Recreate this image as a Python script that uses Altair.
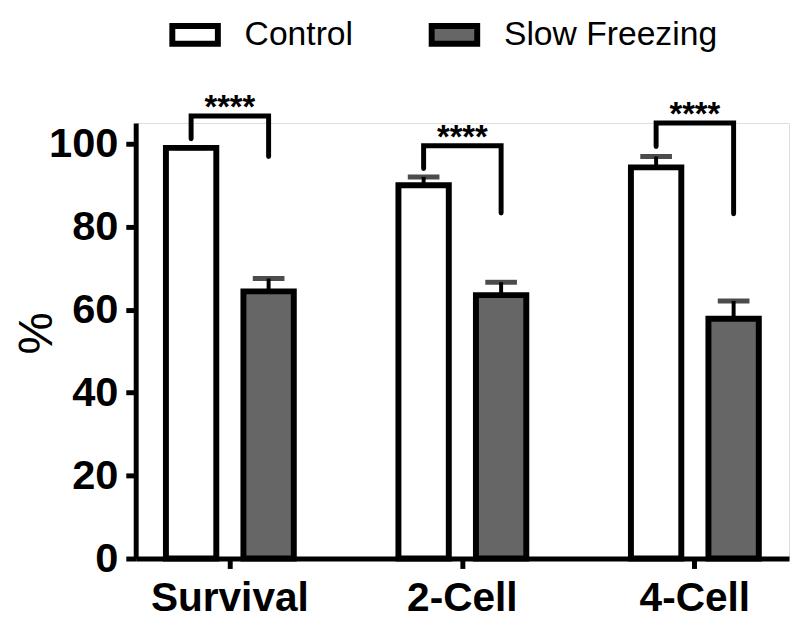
import altair as alt
import pandas as pd

# ---- data ----
groups = ["Survival", "2-Cell", "4-Cell"]
series = ["Control", "Slow Freezing"]
control_mean = [99.0, 90.0, 94.3]
control_err = [0.0, 2.0, 2.6]
slow_mean = [64.4, 63.5, 57.8]
slow_err = [3.1, 3.1, 4.3]
# significance brackets (in % units)
bracket_top = [106.7, 99.5, 105.0]
bracket_left_end = [101.2, 94.0, 99.3]
bracket_right_end = [96.9, 83.3, 83.1]
sig_labels = ["****", "****", "****"]
y_ticks = [0, 20, 40, 60, 80, 100]

FONT = "Liberation Sans"

rows = []
for i, g in enumerate(groups):
    rows.append({"group": g, "series": series[0], "mean": control_mean[i],
                 "upper": control_mean[i] + control_err[i]})
    rows.append({"group": g, "series": series[1], "mean": slow_mean[i],
                 "upper": slow_mean[i] + slow_err[i]})
bars_df = pd.DataFrame(rows)

brows = []
for i, g in enumerate(groups):
    brows += [
        {"group": g, "series": series[0], "y": bracket_left_end[i], "k": 0},
        {"group": g, "series": series[0], "y": bracket_top[i], "k": 1},
        {"group": g, "series": series[1], "y": bracket_top[i], "k": 2},
        {"group": g, "series": series[1], "y": bracket_right_end[i], "k": 3},
    ]
br_df = pd.DataFrame(brows)
stars_df = pd.DataFrame({"group": groups, "y": bracket_top, "label": sig_labels})

x_enc = alt.X(
    "group:N", sort=groups,
    scale=alt.Scale(paddingInner=0.45, paddingOuter=0.13),
    axis=alt.Axis(title=None, labelAngle=0, labelFontSize=41, labelFontWeight="bold",
                  labelFont=FONT, labelColor="black", tickSize=10, tickWidth=5,
                  tickColor="black", domainColor="black", domainWidth=5,
                  labelPadding=11, grid=False),
)
xo_enc = alt.XOffset("series:N", sort=series,
                     scale=alt.Scale(paddingInner=0.35, paddingOuter=0))
y_scale = alt.Scale(domain=[0, 105], nice=False, zero=True)

bars = alt.Chart(bars_df).mark_bar(stroke="black", strokeWidth=6, strokeJoin="miter").encode(
    x=x_enc,
    xOffset=xo_enc,
    y=alt.Y("mean:Q", scale=y_scale,
            axis=alt.Axis(values=y_ticks, title="%", titleFontSize=48, titleFontWeight="normal",
                          titleFont=FONT, titleColor="black", titleX=-85, titleY=212,
                          titleBaseline="alphabetic",
                          labelFontSize=42, labelFontWeight="bold", labelFont=FONT,
                          labelColor="black", tickSize=10, tickWidth=5, tickColor="black",
                          domainColor="black", domainWidth=5, labelPadding=8, grid=False)),
    fill=alt.Fill("series:N", sort=series,
                  scale=alt.Scale(domain=series, range=["white", "#666666"]),
                  legend=alt.Legend(orient="none", legendX=34, legendY=-115,
                                    direction="horizontal", title=None,
                                    symbolType="M-1,-0.39H1V0.39H-1Z", symbolSize=2116,
                                    symbolStrokeWidth=6, symbolStrokeColor="black",
                                    symbolOpacity=1, labelLimit=0,
                                    labelFontSize=34, labelFont=FONT, labelColor="black",
                                    labelOffset=24, columnPadding=67, padding=0)),
)

err = alt.Chart(bars_df).mark_rule(color="black", strokeWidth=4).encode(
    x=x_enc, xOffset=xo_enc,
    y=alt.Y("mean:Q", scale=y_scale), y2="upper:Q",
)
caps = alt.Chart(bars_df).mark_tick(color="black", size=32, thickness=5, orient="horizontal").encode(
    x=x_enc, xOffset=xo_enc,
    y=alt.Y("upper:Q", scale=y_scale),
)
brackets = alt.Chart(br_df).mark_line(color="black", strokeWidth=5, strokeCap="round",
                                      strokeJoin="miter").encode(
    x=x_enc, xOffset=xo_enc,
    y=alt.Y("y:Q", scale=y_scale),
    detail="group:N",
    order="k:Q",
)
stars = alt.Chart(stars_df).mark_text(fontSize=33, fontWeight="bold", font=FONT,
                                      baseline="alphabetic", dy=2, color="black").encode(
    x=x_enc,
    y=alt.Y("y:Q", scale=y_scale),
    text="label:N",
)

chart = alt.layer(bars, err, caps, brackets, stars).properties(
    width=660, height=440,
    autosize=alt.AutoSizeParams(type="none"),
    padding={"left": 129, "top": 113, "right": 3, "bottom": 64},
).configure_view(stroke=None).configure(font=FONT)

chart.save("out.html", embed_options={"renderer": "svg", "actions": False})
